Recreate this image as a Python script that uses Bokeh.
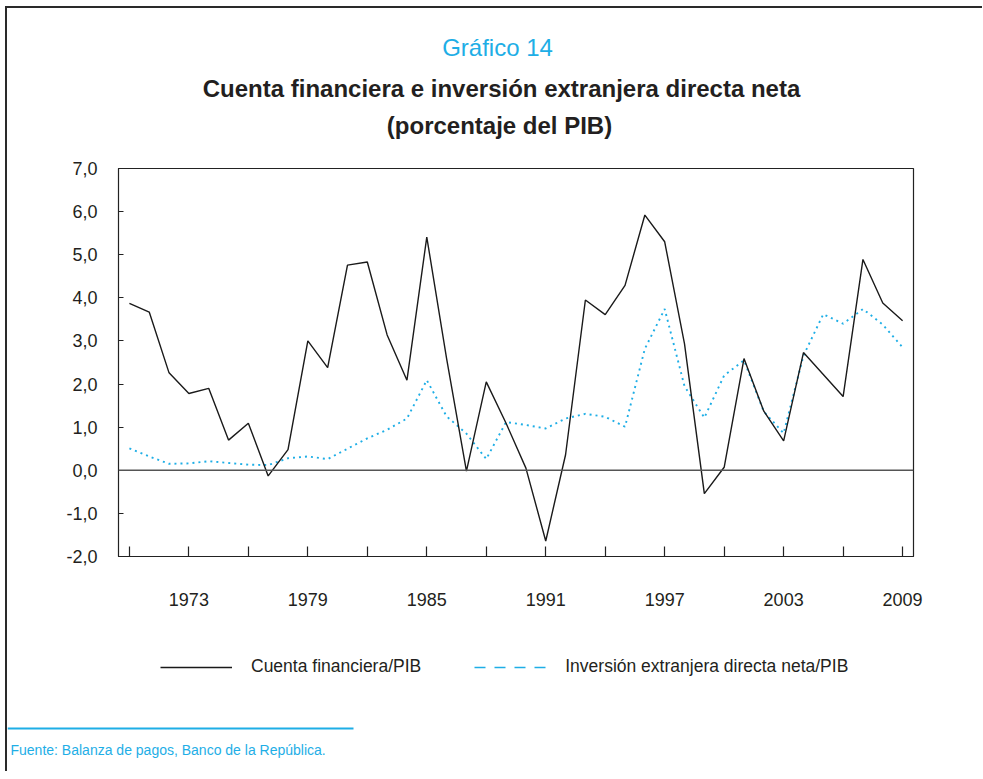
from bokeh.plotting import figure
from bokeh.models import FixedTicker, Range1d, Span, Legend, LegendItem
from bokeh.layouts import column
from bokeh.core.properties import value
from bokeh.embed import file_html
from bokeh.resources import INLINE

# ---------------- data ----------------
years = list(range(1970, 2010))
cuenta_financiera = [3.87, 3.67, 2.26, 1.78, 1.90, 0.70, 1.09, -0.13, 0.48, 3.00,
                     2.38, 4.76, 4.83, 3.14, 2.09, 5.41, 2.59, -0.02, 2.05, 1.09,
                     0.05, -1.64, 0.36, 3.95, 3.61, 4.29, 5.92, 5.30, 2.93, -0.54,
                     0.07, 2.59, 1.37, 0.68, 2.73, 2.22, 1.71, 4.89, 3.88, 3.47]
ied_neta = [0.51, 0.32, 0.15, 0.16, 0.21, 0.17, 0.13, 0.12, 0.28, 0.32,
            0.26, 0.50, 0.74, 0.94, 1.20, 2.09, 1.25, 0.85, 0.26, 1.12,
            1.05, 0.97, 1.20, 1.31, 1.24, 1.01, 2.82, 3.74, 1.95, 1.22,
            2.20, 2.55, 1.36, 0.86, 2.66, 3.62, 3.40, 3.74, 3.38, 2.85]
x_ticks = list(range(1970, 2010, 3))
x_tick_labels = [str(t) if (t - 1973) % 6 == 0 else "" for t in x_ticks]
y_ticks = [-2, -1, 0, 1, 2, 3, 4, 5, 6, 7]
y_tick_labels = ["-2,0", "-1,0", "0,0", "1,0", "2,0", "3,0", "4,0", "5,0", "6,0", "7,0"]

label_series = ["Cuenta financiera/PIB", "Inversión extranjera directa neta/PIB"]
title_top = "Gráfico 14"
title_main = "Cuenta financiera e inversión extranjera directa neta"
title_sub = "(porcentaje del PIB)"
source_text = "Fuente: Balanza de pagos, Banco de la República."

# ---------------- style ----------------
CYAN = "#1EAEE6"
TXT = "#231f20"
FONT = "Liberation Sans"
W = 975
BLACK_LINE = dict(line_color="#1a1a1a", line_width=1.4)


def no_align(fig):
    try:
        fig.frame_align = False
    except Exception:
        pass


def blank_fig(height):
    f = figure(width=W, height=height, output_backend="svg", toolbar_location=None,
               x_range=Range1d(0, W), y_range=Range1d(height, 0),
               x_axis_type=None, y_axis_type=None, tools="",
               min_border=0, title=None)
    f.outline_line_color = None
    f.xgrid.visible = False
    f.ygrid.visible = False
    f.background_fill_color = "white"
    f.border_fill_color = "white"
    no_align(f)
    return f


# ---------------- header ----------------
h = blank_fig(137)
h.text(x=[490], y=[39], text=[title_top], text_font=value(FONT),
       text_font_size="24px", text_color=CYAN, text_align="center",
       text_baseline="middle")
h.text(x=[494, 492], y=[80, 117], text=[title_main, title_sub],
       text_font=value(FONT), text_font_size="24px", text_font_style="bold",
       text_color=TXT, text_align="center", text_baseline="middle")

# ---------------- main chart ----------------
p = figure(width=W, height=480, output_backend="svg", toolbar_location=None,
           x_range=Range1d(1969.45, 2009.55), y_range=Range1d(-2, 7),
           min_border_left=111, min_border_right=W - 906, min_border_top=23,
           min_border_bottom=69, tools="", title=None)
no_align(p)
p.background_fill_color = "white"
p.border_fill_color = "white"
p.outline_line_color = "#222222"
p.outline_line_width = 1.2
p.xgrid.visible = False
p.ygrid.visible = False

xa = p.xaxis[0]
xa.ticker = FixedTicker(ticks=x_ticks)
xa.major_label_overrides = {t: l for t, l in zip(x_ticks, x_tick_labels)}
xa.minor_tick_line_color = None
xa.major_tick_in = 10
xa.major_tick_out = 0
xa.major_tick_line_color = "#222222"
xa.major_tick_line_width = 1.2
xa.axis_line_color = "#222222"
xa.major_label_standoff = 36
xa.major_label_text_font = FONT
xa.major_label_text_font_size = "18px"
xa.major_label_text_color = TXT

ya = p.yaxis[0]
ya.ticker = FixedTicker(ticks=y_ticks)
ya.major_label_overrides = {t: l for t, l in zip(y_ticks, y_tick_labels)}
ya.minor_tick_line_color = None
ya.major_tick_in = 5
ya.major_tick_out = 0
ya.major_tick_line_color = "#222222"
ya.axis_line_color = "#222222"
ya.major_label_standoff = 21
ya.major_label_text_font = FONT
ya.major_label_text_font_size = "18px"
ya.major_label_text_color = TXT

p.add_layout(Span(location=0, dimension="width", line_color="#555555", line_width=1.6))

p.line(years, ied_neta, line_color=CYAN, line_width=1.9, line_dash="2 4")
p.line(years, cuenta_financiera, **BLACK_LINE)

# ---------------- footer: legend, rule, source ----------------
f = blank_fig(146)
# legend swatches (kept outside the visible range; only their legend glyphs show)
leg_cf = f.line([-50, -40], [-50, -50], **BLACK_LINE)
leg_ied = f.line([-50, -40], [-50, -50], line_color=CYAN, line_width=1.6,
                 line_dash="11 9")
legend = Legend(items=[LegendItem(label=label_series[0], renderers=[leg_cf]),
                       LegendItem(label=label_series[1], renderers=[leg_ied])],
                orientation="horizontal", location=(153, 94),
                glyph_width=72, glyph_height=20, label_standoff=19, spacing=53,
                padding=0, margin=0, border_line_color=None,
                background_fill_alpha=0, label_text_font=FONT,
                label_text_font_size="17.5px", label_text_color=TXT)
f.add_layout(legend, "center")
f.segment(x0=[0], y0=[103], x1=[346], y1=[103], line_color=CYAN, line_width=2)
f.text(x=[3], y=[124], text=[source_text], text_font=value(FONT),
       text_font_size="14px", text_color=CYAN, text_align="left",
       text_baseline="middle")

layout = column(h, p, f, spacing=0,
                styles={"border-top": "2px solid #2a2a2a",
                        "border-left": "2px solid #2a2a2a",
                        "margin-top": "6px", "margin-left": "5px"})

open("out.html", "w").write(file_html(layout, INLINE))
